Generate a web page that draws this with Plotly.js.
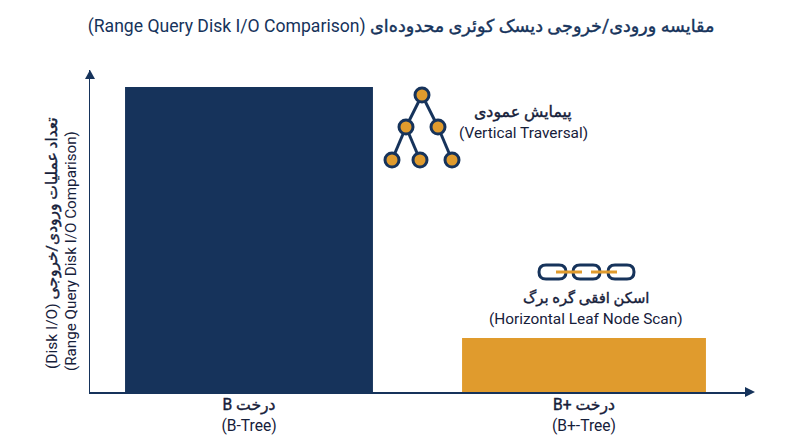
<!DOCTYPE html>
<html>
<head>
<meta charset="utf-8">
<script src="https://cdn.plot.ly/plotly-3.0.1.min.js"></script>
<style>
  html, body { margin: 0; padding: 0; background: #fff; }
</style>
</head>
<body>
<div id="chart" style="width:800px;height:447px;"></div>
<script>
var RLE = '\u202B', PDF = '\u202C';

// persian runs get a thin outline, the installed arabic bold is far too wide
// the bidi marks stay inside the span so they never end up in an empty tspan
function fa(text, color, tail) {
    return '<span style="stroke:' + color + ';stroke-width:0.4px">' + RLE + text + (tail ? '' : PDF) + '</span>';
}

var navy = '#16335b';
var orange = '#e09b2d';
var ink = '#16203a';
var font_family = 'Roboto, "Noto Sans", "DejaVu Sans", sans-serif';

var categories = ['B-Tree', 'B+-Tree'];
var tick_labels = [
    fa('درخت B', ink) + '<br>(B-Tree)',
    fa('درخت +B', ink) + '<br>(B+-Tree)'
];
var io_values = [100, 17.7];
var bar_widths = [0.74, 0.728];
var bar_colors = ['#16335b', '#e09b2d'];

// plot box in page pixels, decoration below is placed relative to it
var box = { left: 90, right: 750, top: 70, bottom: 392 };
function px(x) { return (x - box.left) / (box.right - box.left); }
function py(y) { return (box.bottom - y) / (box.bottom - box.top); }

function pathOf(points) {
    return points.map(function (p, i) {
        return (i ? 'L' : 'M') + px(p[0]) + ',' + py(p[1]);
    }).join(' ') + ' Z';
}

function edge(a, b) {
    return { type: 'line', xref: 'paper', yref: 'paper', x0: px(a[0]), y0: py(a[1]), x1: px(b[0]), y1: py(b[1]),
             line: { color: navy, width: 3 } };
}

function node(c) {
    return { type: 'circle', xref: 'paper', yref: 'paper', x0: px(c[0] - 7), x1: px(c[0] + 7), y0: py(c[1] + 7), y1: py(c[1] - 7),
             fillcolor: orange, line: { color: navy, width: 3 } };
}

function chainLink(x0, x1, y0, y1) {
    var r = (y1 - y0) / 2, m = (y0 + y1) / 2;
    var d = 'M' + px(x0 + r) + ',' + py(y0) + ' L' + px(x1 - r) + ',' + py(y0) +
        ' Q' + px(x1) + ',' + py(y0) + ' ' + px(x1) + ',' + py(m) +
        ' Q' + px(x1) + ',' + py(y1) + ' ' + px(x1 - r) + ',' + py(y1) +
        ' L' + px(x0 + r) + ',' + py(y1) +
        ' Q' + px(x0) + ',' + py(y1) + ' ' + px(x0) + ',' + py(m) +
        ' Q' + px(x0) + ',' + py(y0) + ' ' + px(x0 + r) + ',' + py(y0) + ' Z';
    return { type: 'path', xref: 'paper', yref: 'paper', path: d, line: { color: navy, width: 3 } };
}

function chainBar(x0, x1, y) {
    return { type: 'line', xref: 'paper', yref: 'paper', x0: px(x0), x1: px(x1), y0: py(y), y1: py(y),
             line: { color: orange, width: 3 } };
}

function label(x, y, text, size, angle) {
    return { xref: 'paper', yref: 'paper', x: px(x), y: py(y), text: text, showarrow: false, textangle: angle || 0,
             xanchor: 'center', yanchor: 'middle', align: 'center',
             font: { family: font_family, size: size, color: ink } };
}

var root = [422, 95], mid_l = [406, 127], mid_r = [438, 127];
var leaf_a = [392, 160], leaf_b = [420, 160], leaf_c = [452, 160];

var shapes = [
    edge(root, mid_l), edge(root, mid_r),
    edge(mid_l, leaf_a), edge(mid_l, leaf_b), edge(mid_r, leaf_c),
    node(root), node(mid_l), node(mid_r), node(leaf_a), node(leaf_b), node(leaf_c),
    chainLink(539, 566, 265, 279), chainLink(573, 600, 265, 279), chainLink(608, 634, 265, 279),
    chainBar(556, 582, 272), chainBar(591, 617, 272),
    { type: 'path', xref: 'paper', yref: 'paper', path: pathOf([[90, 70], [85, 79], [95, 79]]), fillcolor: navy, line: { width: 0 } },
    { type: 'path', xref: 'paper', yref: 'paper', path: pathOf([[755, 392], [745, 387], [745, 397]]), fillcolor: navy, line: { width: 0 } }
];

var annotations = [
    label(523, 112, fa('پیمایش عمودی', ink), 15.8),
    label(523, 133, '(Vertical Traversal)', 15.4),
    label(586, 298, fa('اسکن افقی گره برگ', ink), 14.8),
    label(586, 319, '(Horizontal Leaf Node Scan)', 15.4),
    label(52, 243, fa('تعداد عملیات ورودی/خروجی', ink, true) + ' (Disk I/O)' + PDF, 15.5, -90),
    label(71, 251, '(Range Query Disk I/O Comparison)', 15.2, -90)
];

var data = [{
    type: 'bar',
    x: [0, 1],
    y: io_values,
    width: bar_widths,
    marker: { color: bar_colors, line: { width: 0 } },
    text: categories,
    textposition: 'none',
    hoverinfo: 'x+y'
}];

var layout = {
    width: 800,
    height: 447,
    paper_bgcolor: '#ffffff',
    plot_bgcolor: '#ffffff',
    showlegend: false,
    margin: { l: box.left, r: 800 - box.right, t: box.top, b: 447 - box.bottom },
    title: {
        text: fa('مقایسه ورودی/خروجی دیسک کوئری محدوده‌ای', navy, true) + ' (Range Query Disk I/O Comparison)' + PDF,
        x: 0.5013, xanchor: 'center', xref: 'container', y: 0.943, yanchor: 'middle',
        font: { family: font_family, size: 17.6, color: navy }
    },
    xaxis: {
        range: [-0.4746, 1.4955],
        tickmode: 'array',
        tickvals: [0, 1],
        ticktext: tick_labels,
        ticks: '',
        ticklabelstandoff: -2,
        showgrid: false,
        zeroline: false,
        showline: true,
        linecolor: navy,
        linewidth: 1.5,
        tickfont: { family: font_family, size: 15.6, color: ink }
    },
    yaxis: {
        range: [0, 105.6],
        showticklabels: false,
        ticks: '',
        showgrid: false,
        zeroline: false,
        showline: true,
        linecolor: navy,
        linewidth: 1.5
    },
    shapes: shapes,
    annotations: annotations
};

Plotly.newPlot('chart', data, layout, { displayModeBar: false, staticPlot: true });
</script>
</body>
</html>
